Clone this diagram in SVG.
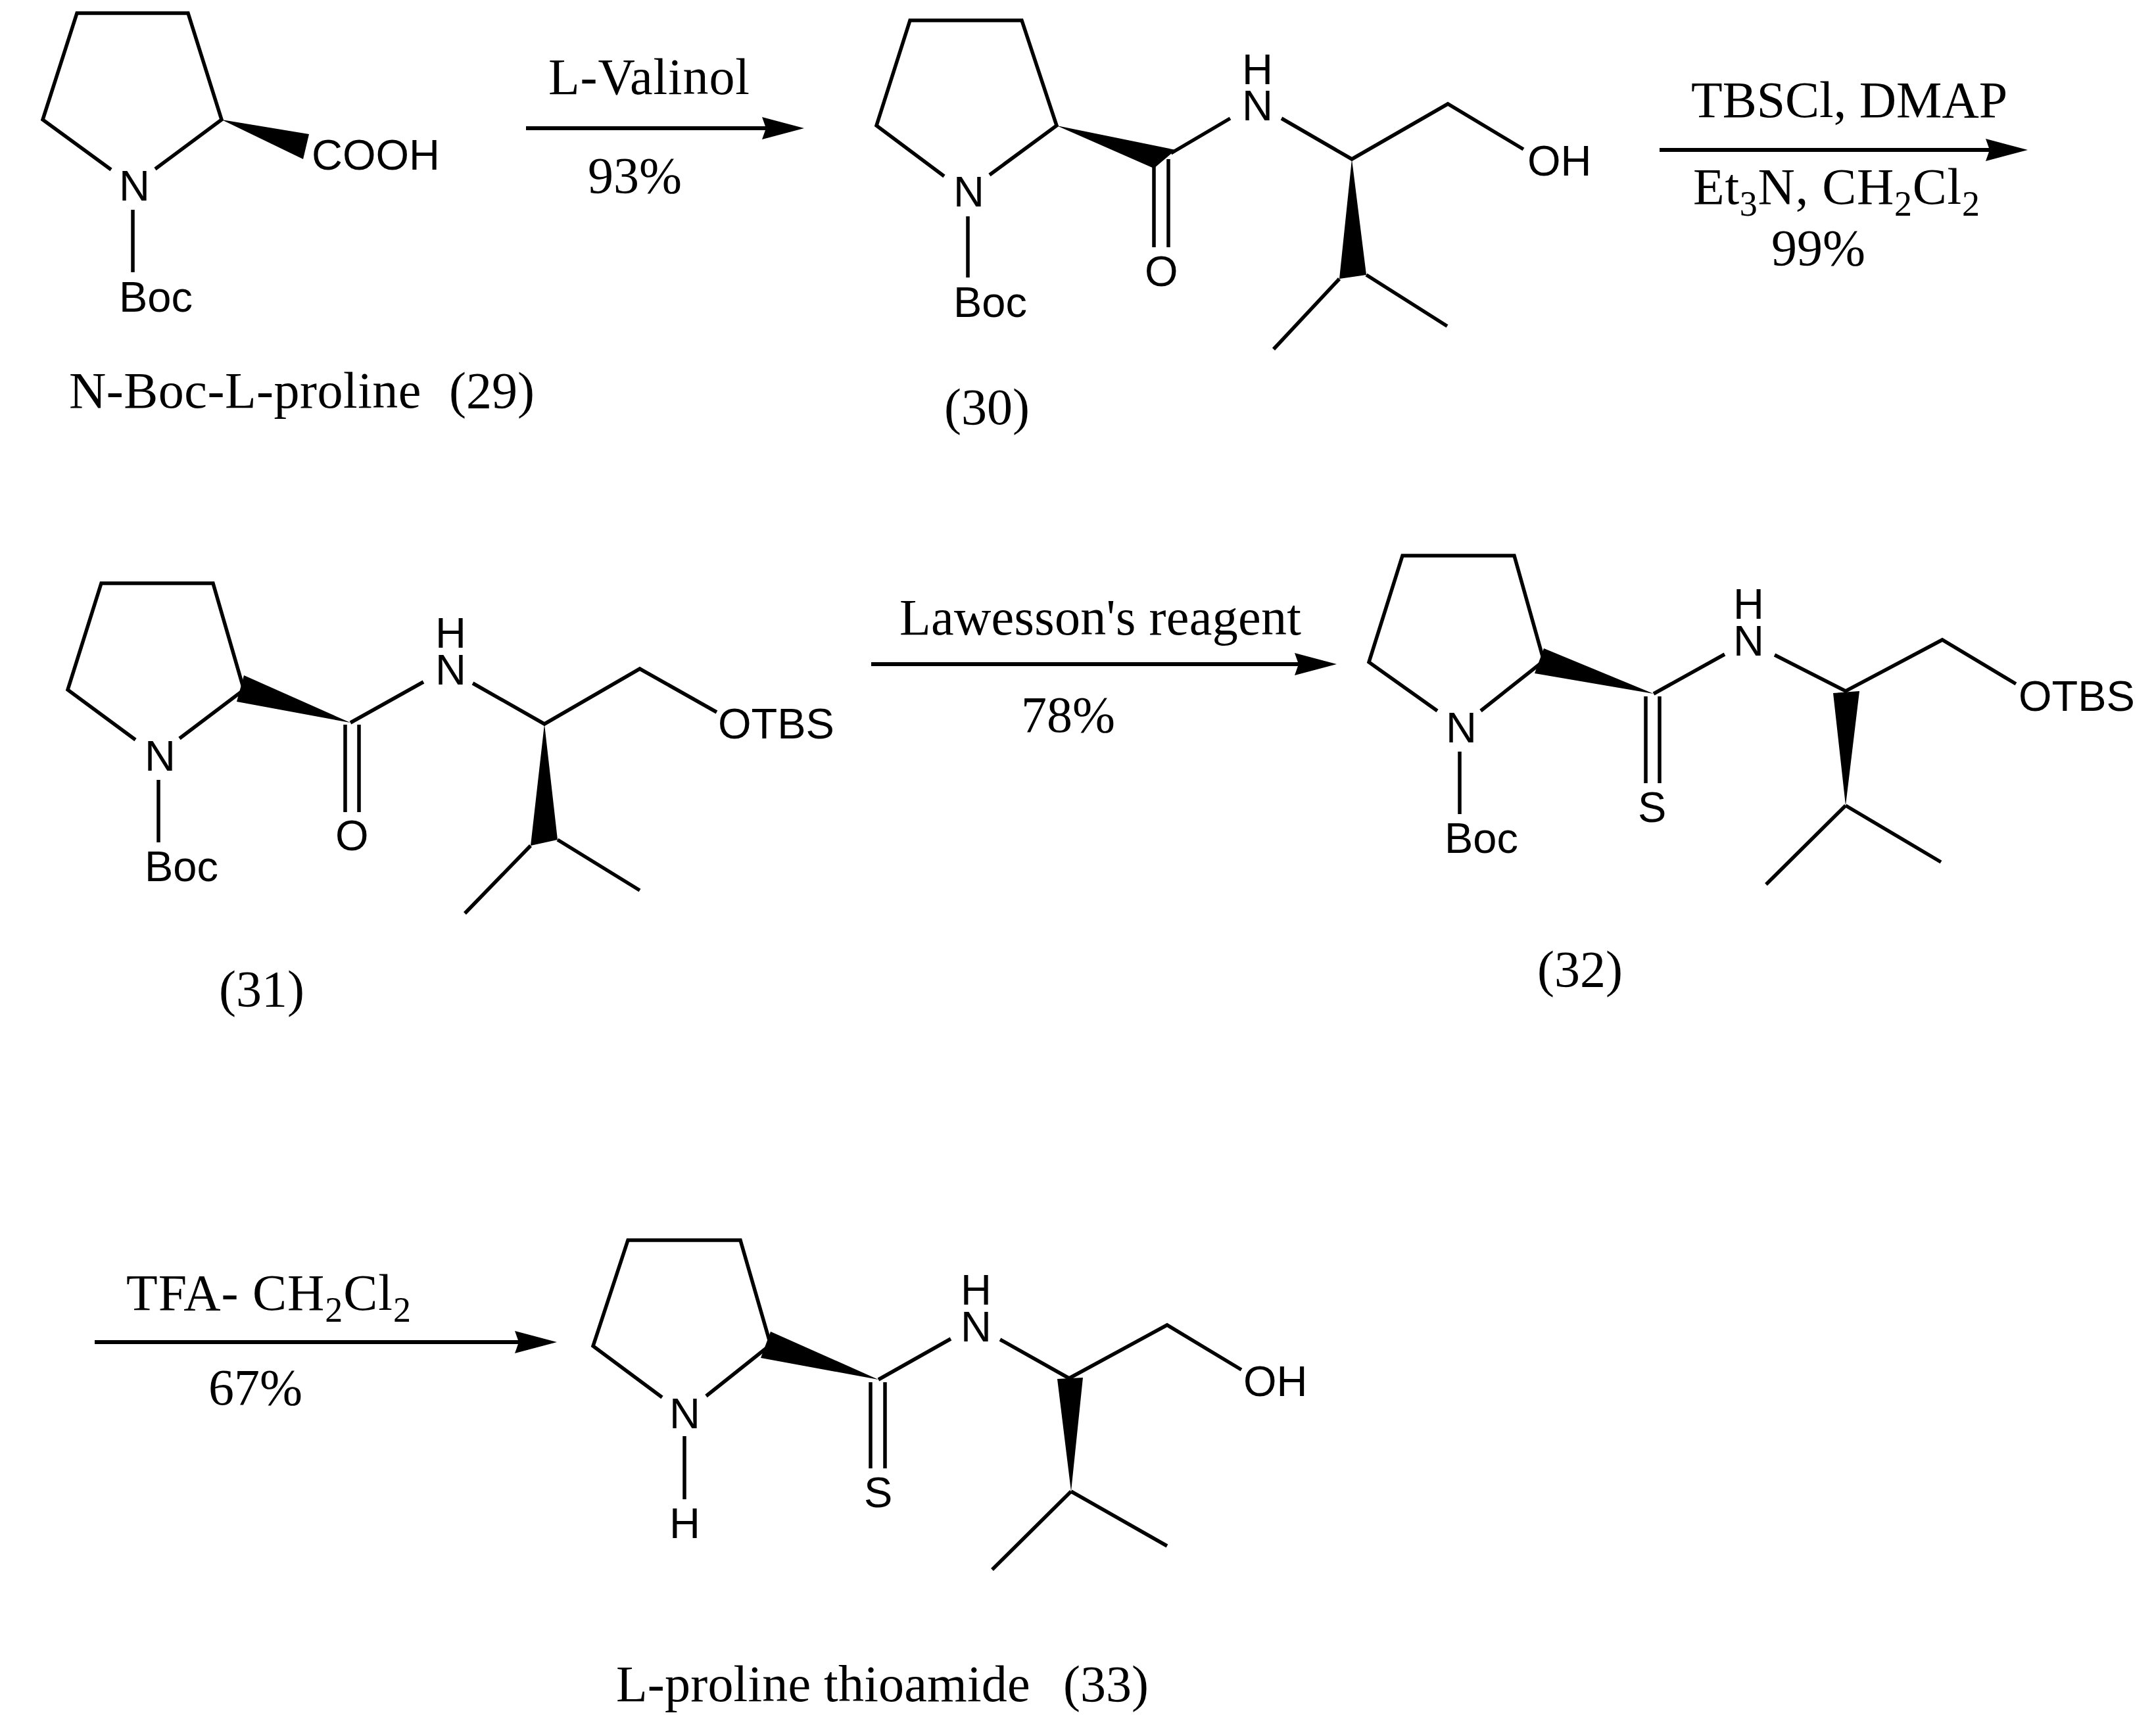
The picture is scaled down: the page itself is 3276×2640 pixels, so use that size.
<svg xmlns="http://www.w3.org/2000/svg" width="3276" height="2640" viewBox="0 0 3276 2640">
<style>
.b{fill:none;stroke:#000;stroke-width:5.5;stroke-linecap:butt;stroke-linejoin:miter}
.w{fill:#000;stroke:none}
.a{font-family:"Liberation Sans",Arial,sans-serif;font-size:65px;fill:#000}
.t{font-family:"Liberation Serif","Times New Roman",serif;font-size:78px;fill:#000;white-space:pre}
.s{font-size:54px}
.r{fill:none;stroke:#000;stroke-width:6}
</style>
<defs>
<marker id="ah" markerUnits="userSpaceOnUse" markerWidth="66" markerHeight="36" refX="6" refY="18" orient="auto"><path d="M0 1L64 18L0 35L6 18Z" fill="#000"/></marker>
</defs>
<rect width="3276" height="2640" fill="#fff"/>
<g id="compound-29" transform="translate(-2,0)">
<path class="b" d="M171 258L67 182L119 20H288L339 182L238 257M204 319V414"/>
<path class="w" d="M339 182L472 204L463 242Z"/>
<text class="a" x="183" y="305">N</text>
<text class="a" x="476" y="258">COOH</text>
<text class="a" x="183" y="474">Boc</text>
<text class="t" x="107" y="620"><tspan letter-spacing="0.5">N-Boc-L-proline  </tspan><tspan x="685">(29)</tspan></text>
</g>
<g id="compound-30" transform="translate(-5,0)">
<path class="b" d="M1441 268L1338 191L1389 31H1559L1612 191L1510 266M1477 329V422M1786 233L1876 180M1954 180L2061 242L2207 158L2322 227M2083 418L2206 496M2042 424L1942 531M1760 242V376M1782 242V376"/>
<path class="w" d="M1612 191L1793 228L1760 256ZM2061 242L2083 418L2042 424Z"/>
<text class="a" x="1455" y="314">N</text>
<text class="a"><tspan x="1894" y="128">H</tspan><tspan x="1894" y="183">N</tspan></text>
<text class="a" x="1746" y="435">O</text>
<text class="a" x="1455" y="482">Boc</text>
<text class="a" x="2328" y="267">OH</text>
<text class="t" x="1441" y="645">(30)</text>
</g>
<g id="compound-31" transform="translate(-4,-1)">
<path class="b" d="M210 1126L107 1050L158 888H328L375 1050L277 1124M245 1187V1282M537 1100L648 1038M723 1040L832 1102L977 1018L1094 1084M852 1278L977 1355M811 1287L711 1390M529 1103V1236M550 1103V1236"/>
<path class="w" d="M375 1028L364 1068L537 1100ZM832 1102L852 1278L811 1287Z"/>
<text class="a" x="224" y="1173">N</text>
<text class="a"><tspan x="666" y="986">H</tspan><tspan x="666" y="1042">N</tspan></text>
<text class="a" x="514" y="1294">O</text>
<text class="a" x="224" y="1341">Boc</text>
<text class="a" x="1096" y="1124">OTBS</text>
<text class="t" x="337" y="1531">(31)</text>
</g>
<g id="compound-32" transform="translate(-7,0)">
<path class="b" d="M2193 1081L2089 1007L2140 845H2310L2355 1005L2259 1081M2227 1143V1238M2522 1055L2630 995M2706 996L2814 1051L2961 973L3073 1040M2814 1225L2959 1311M2814 1225L2693 1345M2510 1059V1191M2531 1059V1191"/>
<path class="w" d="M2355 986L2341 1024L2522 1055ZM2795 1054L2835 1051L2814 1225Z"/>
<text class="a" x="2206" y="1129">N</text>
<text class="a"><tspan x="2643" y="941">H</tspan><tspan x="2643" y="997">N</tspan></text>
<text class="a" x="2498" y="1250">S</text>
<text class="a" x="2204" y="1297">Boc</text>
<text class="a" x="3077" y="1081">OTBS</text>
<text class="t" x="2345" y="1500">(32)</text>
</g>
<g id="compound-33" transform="translate(-6,0)">
<path class="b" d="M1013 2125L908 2047L961 1886H1132L1178 2045L1080 2123M1047 2184V2280M1342 2098L1452 2036M1527 2037L1632 2096L1781 2015L1894 2083M1635 2268L1781 2351M1635 2268L1515 2387M1330 2102V2233M1352 2102V2233"/>
<path class="w" d="M1178 2025L1163 2065L1342 2098ZM1614 2097L1653 2095L1635 2268Z"/>
<text class="a" x="1024" y="2172">N</text>
<text class="a" x="1024" y="2339">H</text>
<text class="a"><tspan x="1467" y="1984">H</tspan><tspan x="1467" y="2040">N</tspan></text>
<text class="a" x="1320" y="2292">S</text>
<text class="a" x="1897" y="2123">OH</text>
<text class="t" x="943" y="2587"><tspan letter-spacing="0.2">L-proline thioamide  </tspan><tspan x="1623">(33)</tspan></text>
</g>
<g id="connectors">
<path class="r" d="M800 195H1165" marker-end="url(#ah)"/>
<path class="r" d="M2524 228H3026" marker-end="url(#ah)"/>
<path class="r" d="M1325 1010H1975" marker-end="url(#ah)"/>
<path class="r" d="M144 2041H789" marker-end="url(#ah)"/>
</g>
<g id="labels">
<text class="t" x="834" y="143" textLength="306">L-Valinol</text>
<text class="t" x="894" y="293">93%</text>
<text class="t" x="2572" y="178">TBSCl, DMAP</text>
<text class="t" x="2575" y="310" textLength="436">Et<tspan class="s" dy="18">3</tspan><tspan dy="-18">N, CH</tspan><tspan class="s" dy="18">2</tspan><tspan dy="-18">Cl</tspan><tspan class="s" dy="18">2</tspan></text>
<text class="t" x="2694" y="403">99%</text>
<text class="t" x="1368" y="965" textLength="611">Lawesson's reagent</text>
<text class="t" x="1553" y="1113">78%</text>
<text class="t" x="192" y="1992" textLength="433">TFA- CH<tspan class="s" dy="18">2</tspan><tspan dy="-18">Cl</tspan><tspan class="s" dy="18">2</tspan></text>
<text class="t" x="317" y="2136">67%</text>
</g>
</svg>
